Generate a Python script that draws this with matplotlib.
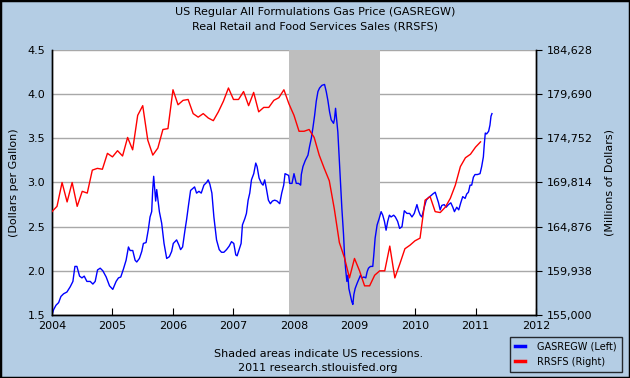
import matplotlib
matplotlib.use("Agg")
import matplotlib.pyplot as plt
import matplotlib.ticker as mticker
from matplotlib.lines import Line2D
from matplotlib.patches import Rectangle

# gas price, weekly, decimal years
gas_year = [
    2004.000, 2004.027, 2004.066, 2004.110, 2004.148, 2004.192, 2004.247, 2004.302, 2004.346, 2004.379,
    2004.412, 2004.456, 2004.495, 2004.533, 2004.577, 2004.632, 2004.676, 2004.714, 2004.753, 2004.797,
    2004.841, 2004.896, 2004.951, 2005.005, 2005.060, 2005.099, 2005.137, 2005.181, 2005.225, 2005.264,
    2005.291, 2005.335, 2005.374, 2005.401, 2005.445, 2005.484, 2005.511, 2005.555, 2005.593, 2005.621,
    2005.648, 2005.665, 2005.681, 2005.698, 2005.714, 2005.731, 2005.753, 2005.775, 2005.813, 2005.852,
    2005.896, 2005.940, 2005.978, 2006.005, 2006.033, 2006.060, 2006.099, 2006.126, 2006.159, 2006.198,
    2006.225, 2006.258, 2006.291, 2006.324, 2006.357, 2006.390, 2006.429, 2006.467, 2006.511, 2006.555,
    2006.582, 2006.610, 2006.643, 2006.676, 2006.720, 2006.764, 2006.802, 2006.841, 2006.885, 2006.929,
    2006.967, 2007.005, 2007.038, 2007.060, 2007.093, 2007.126, 2007.148, 2007.187, 2007.214, 2007.242,
    2007.269, 2007.297, 2007.335, 2007.368, 2007.390, 2007.423, 2007.462, 2007.489, 2007.516, 2007.544,
    2007.577, 2007.610, 2007.643, 2007.681, 2007.720, 2007.764, 2007.797, 2007.830, 2007.852, 2007.912,
    2007.929, 2007.967, 2008.000, 2008.038, 2008.077, 2008.110, 2008.121, 2008.148, 2008.187, 2008.231,
    2008.258, 2008.286, 2008.313, 2008.341, 2008.368, 2008.396, 2008.423, 2008.462, 2008.505, 2008.533,
    2008.560, 2008.588, 2008.615, 2008.654, 2008.670, 2008.687, 2008.709, 2008.725, 2008.742, 2008.764,
    2008.791, 2008.819, 2008.835, 2008.852, 2008.874, 2008.890, 2008.907, 2008.929, 2008.956, 2008.973,
    2008.989, 2009.011, 2009.044, 2009.082, 2009.099, 2009.121, 2009.154, 2009.187, 2009.209, 2009.231,
    2009.264, 2009.302, 2009.319, 2009.341, 2009.374, 2009.407, 2009.440, 2009.467, 2009.495, 2009.522,
    2009.549, 2009.577, 2009.604, 2009.648, 2009.675, 2009.713, 2009.746, 2009.785, 2009.823, 2009.867,
    2009.911, 2009.950, 2009.988, 2010.032, 2010.059, 2010.087, 2010.114, 2010.153, 2010.186, 2010.224,
    2010.262, 2010.295, 2010.334, 2010.361, 2010.389, 2010.416, 2010.443, 2010.482, 2010.515, 2010.553,
    2010.592, 2010.625, 2010.652, 2010.690, 2010.723, 2010.756, 2010.789, 2010.828, 2010.855, 2010.883,
    2010.910, 2010.937, 2010.965, 2010.992, 2011.031, 2011.075, 2011.102, 2011.130, 2011.146, 2011.162,
    2011.184, 2011.217, 2011.239, 2011.256, 2011.272,
]
gas_price = [
    1.50, 1.56, 1.61, 1.64, 1.71, 1.74, 1.76, 1.82, 1.88, 2.05,
    2.05, 1.94, 1.92, 1.94, 1.88, 1.88, 1.85, 1.88, 2.01, 2.03,
    2.00, 1.93, 1.83, 1.79, 1.88, 1.92, 1.93, 2.02, 2.12, 2.27,
    2.23, 2.23, 2.12, 2.10, 2.14, 2.22, 2.31, 2.32, 2.47, 2.61,
    2.67, 2.92, 3.07, 2.93, 2.79, 2.92, 2.80, 2.67, 2.54, 2.31,
    2.14, 2.16, 2.22, 2.31, 2.33, 2.35, 2.29, 2.24, 2.27, 2.46,
    2.58, 2.75, 2.91, 2.93, 2.95, 2.88, 2.90, 2.88, 2.97, 3.00,
    3.03, 2.98, 2.88, 2.61, 2.35, 2.24, 2.21, 2.21, 2.24, 2.28,
    2.33, 2.31, 2.18, 2.17, 2.24, 2.31, 2.52, 2.59, 2.65, 2.80,
    2.88, 3.03, 3.10, 3.22, 3.18, 3.05, 2.99, 2.97, 3.03, 2.93,
    2.80, 2.76, 2.79, 2.80, 2.79, 2.76, 2.88, 2.97, 3.10, 3.08,
    2.99, 2.99, 3.10, 2.99, 2.99, 2.97, 3.09, 3.18, 3.25, 3.31,
    3.41, 3.50, 3.62, 3.76, 3.92, 4.03, 4.07, 4.10, 4.11, 4.03,
    3.93, 3.80, 3.71, 3.67, 3.72, 3.84, 3.69, 3.57, 3.35, 3.05,
    2.71, 2.41, 2.18, 2.03, 1.88, 1.95, 1.80, 1.73, 1.65, 1.62,
    1.73, 1.80, 1.86, 1.92, 1.95, 1.92, 1.93, 1.92, 1.99, 2.03,
    2.05, 2.05, 2.18, 2.37, 2.52, 2.59, 2.67, 2.63, 2.56, 2.46,
    2.56, 2.63, 2.61, 2.63, 2.61, 2.56, 2.48, 2.50, 2.68, 2.65,
    2.65, 2.61, 2.65, 2.75, 2.68, 2.63, 2.61, 2.72, 2.80, 2.83,
    2.85, 2.87, 2.89, 2.83, 2.77, 2.69, 2.74, 2.75, 2.72, 2.75,
    2.77, 2.72, 2.67, 2.72, 2.69, 2.77, 2.84, 2.82, 2.87, 2.89,
    2.97, 2.97, 3.06, 3.09, 3.09, 3.10, 3.18, 3.29, 3.44, 3.56,
    3.55, 3.58, 3.65, 3.75, 3.78,
]

# real retail sales, monthly from Jan 2004 (millions of dollars)
sales_start = 2004
sales = [
    166555, 167147, 169814, 167641, 169814, 167147, 168826, 168629, 171197, 171394, 171296, 173073,
    172678, 173369, 172777, 174851, 173468, 177320, 178406, 174554, 172876, 173666, 175740, 175838,
    180184, 178505, 178999, 179097, 177517, 177122, 177517, 177024, 176727, 177715, 178900, 180381,
    179097, 179097, 179986, 178406, 179888, 177715, 178209, 178209, 178999, 179295, 180184, 178604,
    177320, 175542, 175542, 175740, 174851, 172876, 171394, 170012, 166851, 163098, 161419, 159148,
    161321, 159938, 158259, 158259, 159444, 159938, 159938, 162703, 159148, 160728, 162407, 162802,
    163296, 163592, 167839, 168234, 166555, 166456, 167049, 168036, 169518, 171592, 172579, 172974,
    173764, 174357,
]
sales_year = [sales_start + i / 12 for i in range(len(sales))]

recession = (2007.917, 2009.417)
left_ticks = [1.5, 2.0, 2.5, 3.0, 3.5, 4.0, 4.5]
right_ticks = [155000, 159938, 164876, 169814, 174752, 179690, 184628]
years = list(range(2004, 2013))

bg = '#b4cde4'
fig = plt.figure(figsize=(6.3, 3.78), dpi=100, facecolor=bg)
ax = fig.add_axes([0.0825, 0.1667, 0.7683, 0.701])
ax.set_facecolor('white')
ax2 = ax.twinx()

# gridlines first, recession band on top of them
for t in left_ticks:
    ax.axhline(t, color='#a8a8a8', lw=1, zorder=1)
ax.axvspan(recession[0], recession[1], color='#bebebe', lw=0, zorder=2)

ax.plot(gas_year, gas_price, color='#0000ff', lw=1, zorder=4)
ax2.plot(sales_year, sales, color='#ff0000', lw=1, zorder=3)

ax.set_xlim(2004, 2012)
ax.set_ylim(1.5, 4.5)
ax2.set_ylim(right_ticks[0], right_ticks[-1])
ax.set_xticks(years)
ax.set_yticks(left_ticks)
ax.yaxis.set_major_formatter(mticker.FormatStrFormatter('%.1f'))
ax2.set_yticks(right_ticks)
ax2.yaxis.set_major_formatter(mticker.StrMethodFormatter('{x:,.0f}'))

ax.tick_params(axis='x', direction='in', length=5, labelsize=8, pad=4, color='black')
ax.tick_params(axis='y', length=0, labelsize=8, pad=5)
ax2.tick_params(axis='y', direction='out', length=4, labelsize=8, pad=4)

for a in (ax, ax2):
    a.spines['top'].set_visible(False)
    for s in ('left', 'right', 'bottom'):
        a.spines[s].set_color('black')
        a.spines[s].set_linewidth(1)

ax.set_ylabel('(Dollars per Gallon)', fontsize=8, labelpad=6)
ax2.set_ylabel('(Millions of Dollars)', fontsize=8, labelpad=8)

fig.text(0.5, 0.968, 'US Regular All Formulations Gas Price (GASREGW)', ha='center', va='center', fontsize=8)
fig.text(0.5, 0.931, 'Real Retail and Food Services Sales (RRSFS)', ha='center', va='center', fontsize=8)
fig.text(0.505, 0.063, 'Shaded areas indicate US recessions.', ha='center', va='center', fontsize=8)
fig.text(0.505, 0.026, '2011 research.stlouisfed.org', ha='center', va='center', fontsize=8)

handles = [Line2D([], [], color='#0000ff', lw=2.5), Line2D([], [], color='#ff0000', lw=2.5)]
leg = fig.legend(handles, ['GASREGW (Left)', 'RRSFS (Right)'], loc='lower right',
                 bbox_to_anchor=(0.99, 0.012), fontsize=7, frameon=True, fancybox=False,
                 handlelength=1.0, handletextpad=1.3, borderpad=0.5, labelspacing=0.5,
                 borderaxespad=0.2)
leg.get_frame().set_facecolor(bg)
leg.get_frame().set_edgecolor('black')
leg.get_frame().set_linewidth(1)

fig.patches.append(Rectangle((0, 0), 1, 1, transform=fig.transFigure, fill=False,
                             edgecolor='black', lw=2.5))

fig.savefig('out.png', dpi=100, facecolor=bg)
